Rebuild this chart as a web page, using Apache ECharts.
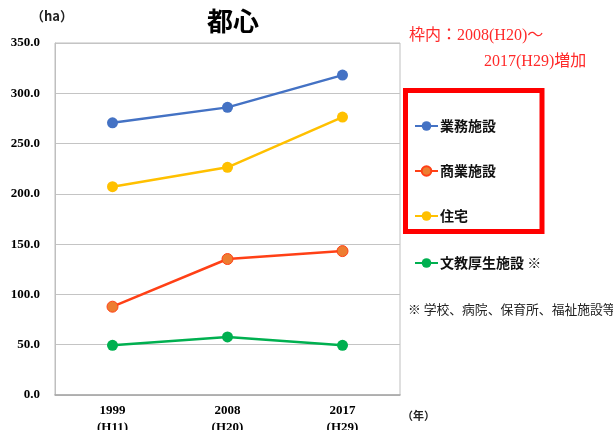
<!DOCTYPE html>
<html>
<head>
<meta charset="utf-8">
<script src="https://cdn.jsdelivr.net/npm/echarts@6/dist/echarts.min.js"></script>
<style>
html,body{margin:0;padding:0;background:#fff;}
#chart{width:613px;height:430px;}
</style>
</head>
<body>
<div id="chart"></div>
<script>
// Land use area in the central district (ha)
const years = ['1999\n(H11)', '2008\n(H20)', '2017\n(H29)'];
const seriesNames = ['業務施設', '商業施設', '住宅', '文教厚生施設'];
const office = [270.6, 286.0, 318.1];
const commercial = [87.8, 135.2, 143.1];
const housing = [207.1, 226.4, 276.3];
const educationWelfare = [49.4, 57.7, 49.4];
const yTicks = { min: 0, max: 350, interval: 50 };

const jp = '"Noto Sans CJK JP", "Noto Sans", sans-serif';
const serif = '"Liberation Serif", "Times New Roman", serif';

const chart = echarts.init(document.getElementById('chart'), null, { renderer: 'canvas' });

function lineSeries(name, data, lineColor, fillColor) {
  return {
    name: name,
    type: 'line',
    data: data,
    symbol: 'circle',
    symbolSize: 11,
    lineStyle: { color: lineColor, width: 2.5 },
    itemStyle: { color: fillColor, borderColor: lineColor, borderWidth: fillColor === lineColor ? 0 : 1 },
    emphasis: { disabled: true },
    animation: false
  };
}

const legendText = { fontFamily: jp, fontSize: 14, fontWeight: 'bold', color: '#111', padding: [0, 0, 0, -3] };

chart.setOption({
  animation: false,
  title: {
    text: '都心',
    left: 202,
    top: 3,
    textStyle: { fontFamily: jp, fontSize: 26, fontWeight: 'bold', color: '#000' }
  },
  grid: {
    left: 55, right: 213, top: 43, bottom: 35,
    outerBoundsMode: 'none',
    containLabel: false,
    show: true, borderColor: '#bfbfbf', borderWidth: 1
  },
  legend: [
    {
      data: seriesNames.slice(0, 3),
      orient: 'vertical',
      left: 409, top: 114,
      itemWidth: 23, itemHeight: 12, itemGap: 31,
      textStyle: legendText,
      selectedMode: false
    },
    {
      data: [seriesNames[3]],
      orient: 'vertical',
      left: 409, top: 251,
      itemWidth: 23, itemHeight: 12,
      formatter: n => n + ' ※',
      textStyle: legendText,
      selectedMode: false
    }
  ],
  xAxis: {
    type: 'category',
    data: years,
    boundaryGap: true,
    axisLine: { lineStyle: { color: '#a6a6a6', width: 1.5 } },
    axisTick: { show: false },
    axisLabel: {
      fontFamily: serif, fontSize: 13, fontWeight: 'bold', color: '#000',
      lineHeight: 17, margin: 7
    }
  },
  yAxis: {
    type: 'value',
    min: yTicks.min, max: yTicks.max, interval: yTicks.interval,
    axisLine: { show: true, lineStyle: { color: '#bfbfbf' } },
    axisTick: { show: false },
    splitLine: { lineStyle: { color: '#c4c4c4', width: 1.2 } },
    axisLabel: {
      fontFamily: serif, fontSize: 13, fontWeight: 'bold', color: '#000',
      margin: 15,
      formatter: v => v.toFixed(1)
    }
  },
  graphic: [
    {
      type: 'text', left: 31, top: 10,
      style: { text: '（ha）', fontFamily: jp, fontSize: 13, fontWeight: 'bold', fill: '#222' }
    },
    {
      type: 'text', left: 402, top: 410,
      style: { text: '（年）', fontFamily: jp, fontSize: 11, fontWeight: 'bold', fill: '#222' }
    },
    {
      type: 'text', left: 409, top: 28,
      style: { text: '枠内：2008(H20)～', fontFamily: serif + ', "Noto Sans CJK JP"', fontSize: 16, fill: '#ff2a2a' }
    },
    {
      type: 'text', left: 484, top: 54,
      style: { text: '2017(H29)増加', fontFamily: serif + ', "Noto Sans CJK JP"', fontSize: 16, fill: '#ff2a2a' }
    },
    {
      type: 'rect',
      shape: { x: 405.5, y: 90.5, width: 136.5, height: 141 },
      style: { fill: 'none', stroke: '#ff0000', lineWidth: 5 }
    },
    {
      type: 'text', left: 408, top: 303,
      style: { text: '※ 学校、病院、保育所、福祉施設等', fontFamily: jp, fontSize: 12.8, fill: '#222' }
    }
  ],
  series: [
    lineSeries(seriesNames[0], office, '#4472c4', '#4472c4'),
    lineSeries(seriesNames[1], commercial, '#ff4016', '#ed7d31'),
    lineSeries(seriesNames[2], housing, '#ffc000', '#ffc000'),
    lineSeries(seriesNames[3], educationWelfare, '#00b050', '#00b050')
  ]
});
</script>
</body>
</html>
